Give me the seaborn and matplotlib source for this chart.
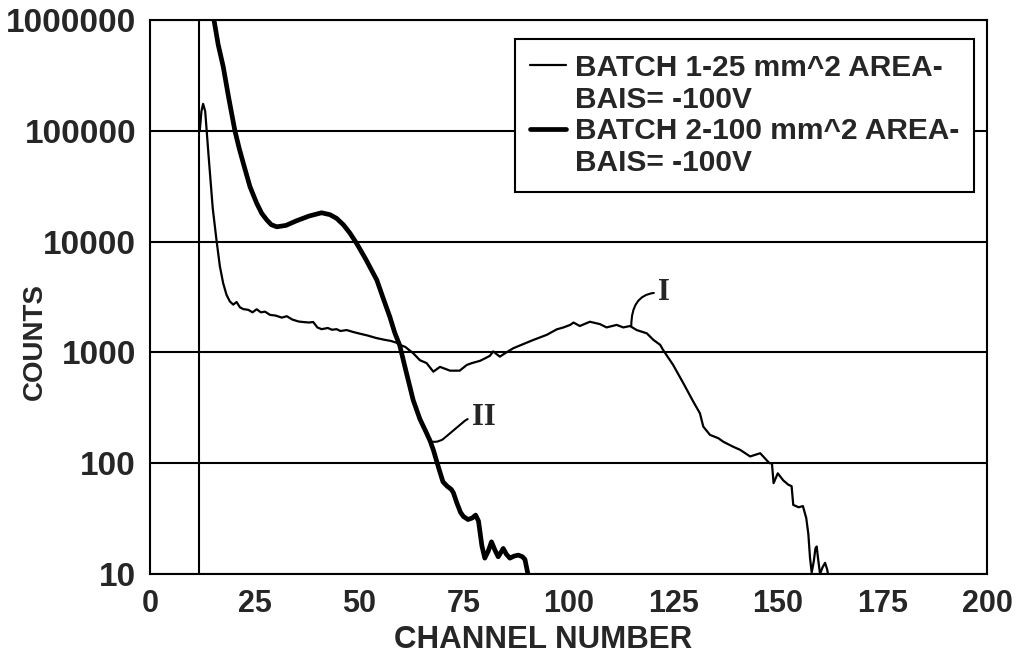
import numpy as np
import pandas as pd
import seaborn as sns
import matplotlib.pyplot as plt
from matplotlib.lines import Line2D

#-- veriler
batch1_channel = [11.9, 12.3, 12.7, 13.2, 14.0, 15.0, 15.9, 16.7, 17.5, 18.3, 19.1, 19.9,
                  20.7, 21.5, 22.3, 23.5, 24.5, 25.5, 26.5, 27.5, 28.7, 30.0, 31.5, 32.7,
                  34.0, 35.5, 36.6, 38.0, 39.0, 40.0, 41.0, 42.5, 43.5, 44.6, 45.5, 47.0,
                  48.5, 50.0, 52.0, 54.0, 56.0, 57.5, 59.0, 59.7, 61.0, 62.9, 64.5, 66.1,
                  67.7, 69.3, 71.7, 74.0, 75.7, 76.9, 78.9, 81.2, 82.0, 83.6, 84.8, 86.8,
                  89.0, 91.6, 94.8, 97.2, 98.8, 100.4, 101.2, 102.7, 105.1, 107.5, 109.1,
                  111.5, 113.1, 114.7, 116.3, 118.7, 120.3, 121.9, 122.6, 125.0, 127.4,
                  129.8, 131.4, 132.2, 133.8, 135.8, 137.0, 139.3, 141.0, 143.4, 145.8,
                  148.0, 148.6, 149.0, 150.0, 151.3, 152.5, 153.3, 153.7, 155.0, 156.0,
                  156.8, 157.3, 157.7, 158.1, 158.6, 159.0, 159.3, 159.6, 160.1, 160.7,
                  161.3, 161.8, 162.2]
batch1_counts = [100000, 150000, 175000, 150000, 60000, 20000, 10300, 6000, 4200, 3300, 2880, 2700,
                 2850, 2550, 2460, 2420, 2300, 2450, 2300, 2330, 2180, 2150, 2060, 2120,
                 1980, 1900, 1880, 1860, 1880, 1680, 1620, 1660, 1600, 1620, 1560, 1590,
                 1530, 1480, 1420, 1350, 1300, 1270, 1220, 1170, 1120, 982, 850, 800,
                 670, 740, 684, 684, 770, 800, 840, 930, 1020, 915, 980, 1090,
                 1180, 1295, 1440, 1614, 1680, 1770, 1860, 1730, 1890, 1800, 1680,
                 1770, 1680, 1730, 1590, 1486, 1295, 1170, 1052, 770, 530,
                 360, 282, 214, 180, 168, 156, 141, 132, 115, 123,
                 100, 100, 66, 81, 70, 64, 62, 42, 40, 41,
                 32, 23, 14, 10.3, 13, 17, 17.7, 14, 10, 11.5,
                 12.6, 11, 9]

batch2_channel = [14.5, 15.3, 16.3, 17.5, 18.8, 20.3, 21.3, 22.3, 23.9, 25.5, 26.7, 27.9,
                  29.0, 30.3, 32.5, 35.0, 38.0, 41.0, 43.0, 44.6, 46.2, 47.8, 49.4, 51.5,
                  54.2, 55.7, 57.3, 58.5, 59.7, 61.0, 62.9, 64.5, 66.0, 66.9, 67.7, 69.0,
                  70.0, 71.0, 72.0, 72.5, 73.3, 74.2, 74.9, 76.0, 77.0, 77.8, 78.5, 79.3,
                  80.0, 80.8, 81.6, 82.4, 83.2, 84.0, 84.4, 85.2, 86.0, 87.0, 88.0, 89.0,
                  89.6, 90.3, 90.6]
batch2_counts = [2.0e6, 1.0e6, 6.0e5, 3.8e5, 2.0e5, 1.0e5, 7.0e4, 5.1e4, 3.13e4, 2.22e4, 1.8e4, 1.57e4,
                 1.42e4, 1.36e4, 1.40e4, 1.54e4, 1.70e4, 1.82e4, 1.75e4, 1.62e4, 1.42e4, 1.19e4, 9.6e3, 7.0e3,
                 4.5e3, 3.1e3, 2.1e3, 1.5e3, 1.15e3, 720, 370, 250, 190, 160, 132, 90,
                 68, 62, 58, 54, 44, 36, 33, 31, 32, 34, 30, 18,
                 13.9, 16, 19.5, 16.5, 14.3, 16, 17, 15, 13.9, 14.5, 14.8, 14.3,
                 13.5, 10, 8]

legend_labels = ["BATCH 1-25 mm^2 AREA-", "BAIS= -100V",
                 "BATCH 2-100 mm^2 AREA-", "BAIS= -100V"]
xticks = [0, 25, 50, 75, 100, 125, 150, 175, 200]
yticks = [10, 100, 1000, 10000, 100000, 1000000]
ytick_labels = ["10", "100", "1000", "10000", "100000", "1000000"]

df1 = pd.DataFrame({"channel": batch1_channel, "counts": batch1_counts})
df2 = pd.DataFrame({"channel": batch2_channel, "counts": batch2_counts})

sns.set_style("white")
plt.rcParams['font.family'] = ['Liberation Sans', 'DejaVu Sans']
plt.rcParams['font.weight'] = 'bold'

fig, ax = plt.subplots(figsize=(10.18, 6.58), dpi=100)
fig.subplots_adjust(left=0.1473, right=0.9696, bottom=0.1277, top=0.9696)

ax.set_yscale("log")
ax.axvline(11.8, color="black", lw=1.5, zorder=2)
sns.lineplot(data=df1, x="channel", y="counts", color="black", lw=1.6, sort=False, ax=ax, legend=False)
sns.lineplot(data=df2, x="channel", y="counts", color="black", lw=3.4, sort=False, ax=ax, legend=False)

ax.set_xlim(0, 200)
ax.set_ylim(10, 1000000)
ax.set_xticks(xticks)
ax.set_xticklabels([str(t) for t in xticks])
ax.set_yticks(yticks)
ax.set_yticklabels(ytick_labels)
ax.minorticks_off()
ax.tick_params(axis="x", direction="out", length=8, width=1.5, labelsize=22, pad=3)
ax.tick_params(axis="y", direction="out", length=8, width=1.5, labelsize=24, pad=2)
for lab in ax.get_xticklabels() + ax.get_yticklabels():
    lab.set_fontweight("bold")

ax.yaxis.grid(True, color="black", lw=1.5)
ax.xaxis.grid(False)
for s in ax.spines.values():
    s.set_color("black")
    s.set_linewidth(1.5)

ax.set_xlabel("CHANNEL NUMBER", fontsize=22.5, fontweight="bold")
ax.set_ylabel("COUNTS", fontsize=20, fontweight="bold")
ax.xaxis.set_label_coords(0.4695, -0.092)
ax.yaxis.set_label_coords(-0.122, 0.42)

# legend: 4 satir, 2. ve 4. satir bos handle
handles = [Line2D([], [], color="black", lw=1.6), Line2D([], [], color="none"),
           Line2D([], [], color="black", lw=3.4), Line2D([], [], color="none")]
leg = ax.legend(handles, legend_labels, loc="upper right", bbox_to_anchor=(0.9845, 0.9657),
                borderaxespad=0, frameon=True, fancybox=False, framealpha=1,
                edgecolor="black", fontsize=21.5, handlelength=1.2, handletextpad=0.3,
                labelspacing=0.12, borderpad=0.5)
leg.get_frame().set_linewidth(1.5)
for t in leg.get_texts():
    t.set_fontweight("bold")

# I ve II isaretleri
ax.annotate("I", xy=(115, 1730), xytext=(121.5, 3460), ha="left", va="center",
            fontsize=22, fontweight="bold", family=["Liberation Serif", "DejaVu Serif"],
            arrowprops=dict(arrowstyle="-", color="black", lw=1.5, relpos=(0, 0.5),
                            shrinkA=1, shrinkB=0,
                            connectionstyle="angle3,angleA=0,angleB=90"))
ax.annotate("II", xy=(66.9, 156), xytext=(77.0, 256), ha="left", va="center",
            fontsize=22, fontweight="bold", family=["Liberation Serif", "DejaVu Serif"],
            arrowprops=dict(arrowstyle="-", color="black", lw=1.5, relpos=(0, 0.5),
                            shrinkA=1, shrinkB=0,
                            connectionstyle="arc,angleA=180,armA=4,angleB=0,armB=10,rad=5"))

fig.savefig("out.png", dpi=100)
